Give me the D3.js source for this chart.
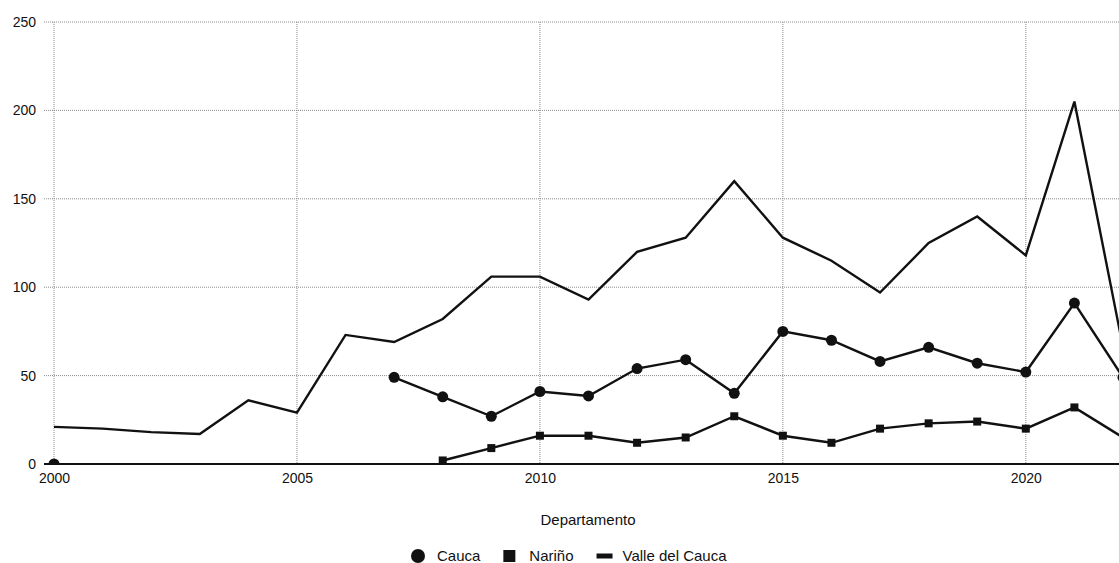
<!DOCTYPE html>
<html>
<head>
<meta charset="utf-8">
<script src="https://cdn.jsdelivr.net/npm/d3@7/dist/d3.min.js"></script>
<style>
  body { margin: 0; background: #fff; }
  svg { display: block; font-family: "Liberation Sans", Arial, sans-serif; }
</style>
</head>
<body>
<svg id="chart" width="1119" height="563"></svg>
<script>
// años y series (lecturas del gráfico)
const years = [2000, 2001, 2002, 2003, 2004, 2005, 2006, 2007, 2008, 2009, 2010, 2011,
               2012, 2013, 2014, 2015, 2016, 2017, 2018, 2019, 2020, 2021, 2022];
const cauca = [0, null, null, null, null, null, null, 49, 38, 27, 41, 38.5,
               54, 59, 40, 75, 70, 58, 66, 57, 52, 91, 49];
const narino = [null, null, null, null, null, null, null, null, 2, 9, 16, 16,
                12, 15, 27, 16, 12, 20, 23, 24, 20, 32, 15];
const valle = [21, 20, 18, 17, 36, 29, 73, 69, 82, 106, 106, 93,
               120, 128, 160, 128, 115, 97, 125, 140, 118, 205, 66];
const xTicks = [2000, 2005, 2010, 2015, 2020];
const yTicks = [0, 50, 100, 150, 200, 250];
const seriesNames = ["Cauca", "Nariño", "Valle del Cauca"];

const svg = d3.select("#chart");
const x = d3.scaleLinear().domain([2000, 2022]).range([54, 1123]);
const y = d3.scaleLinear().domain([0, 250]).range([464, 22]);

svg.append("defs").append("clipPath").attr("id", "plotclip")
   .append("rect").attr("x", 40).attr("y", 0).attr("width", 1079).attr("height", y(0));

// grid
let grid = svg.append("g").attr("class", "grid");
grid.selectAll("line.h")
    .data(yTicks.filter(d => d > 0))
    .join("line")
    .attr("x1", 44).attr("x2", 1119)
    .attr("y1", d => y(d)).attr("y2", d => y(d))
    .attr("stroke", "#8a8a8a").attr("stroke-width", 1)
    .attr("stroke-dasharray", "1,1");
grid.selectAll("line.v")
    .data(xTicks)
    .join("line")
    .attr("x1", d => x(d)).attr("x2", d => x(d))
    .attr("y1", y(250)).attr("y2", y(0))
    .attr("stroke", "#8a8a8a").attr("stroke-width", 1)
    .attr("stroke-dasharray", "1,1");

// axes
let yAxis = svg.append("g")
    .attr("transform", "translate(44,0)")
    .call(d3.axisLeft(y).tickValues(yTicks).tickSize(0).tickPadding(8));
yAxis.select(".domain").remove();
yAxis.selectAll("text").attr("font-size", 14).attr("fill", "#111")
    .attr("font-family", "Liberation Sans, Arial, sans-serif");

let xAxis = svg.append("g")
    .attr("transform", "translate(0," + y(0) + ")")
    .call(d3.axisBottom(x).tickValues(xTicks).tickFormat(d3.format("d")).tickSize(0).tickPadding(9));
xAxis.select(".domain").remove();
xAxis.selectAll("text").attr("font-size", 14).attr("fill", "#111")
    .attr("font-family", "Liberation Sans, Arial, sans-serif");

svg.append("text")
    .attr("x", 588).attr("y", 525)
    .attr("text-anchor", "middle")
    .attr("font-size", 15).attr("fill", "#111")
    .text("Departamento");

// lines
const line = d3.line()
    .defined(d => d.v !== null)
    .x(d => x(d.year))
    .y(d => y(d.v));

const mk = arr => years.map((yr, i) => ({ year: yr, v: arr[i] }));
const series = [mk(cauca), mk(narino), mk(valle)];

let plot = svg.append("g").attr("clip-path", "url(#plotclip)");
series.forEach(s => {
    plot.append("path")
        .datum(s)
        .attr("d", line)
        .attr("fill", "none")
        .attr("stroke", "#111")
        .attr("stroke-width", 2.4)
        .attr("stroke-linejoin", "miter");
});

plot.selectAll("circle.cauca")
    .data(series[0].filter(d => d.v !== null))
    .join("circle")
    .attr("cx", d => x(d.year)).attr("cy", d => y(d.v))
    .attr("r", 5.5).attr("fill", "#111");

plot.selectAll("rect.narino")
    .data(series[1].filter(d => d.v !== null))
    .join("rect")
    .attr("x", d => x(d.year) - 4).attr("y", d => y(d.v) - 4)
    .attr("width", 8).attr("height", 8).attr("fill", "#111");

svg.append("line")
    .attr("x1", 44).attr("x2", 1119)
    .attr("y1", y(0)).attr("y2", y(0))
    .attr("stroke", "#111").attr("stroke-width", 1.8);

// legend
let legend = svg.append("g").attr("transform", "translate(0,556)");
let cx = 411;
seriesNames.forEach((name, i) => {
    if (i === 0) {
        legend.append("circle").attr("cx", cx + 7).attr("cy", 0).attr("r", 7).attr("fill", "#111");
    } else if (i === 1) {
        legend.append("rect").attr("x", cx).attr("y", -6).attr("width", 12).attr("height", 12).attr("fill", "#111");
    } else {
        legend.append("rect").attr("x", cx).attr("y", -2.5).attr("width", 16).attr("height", 5).attr("fill", "#111");
    }
    let t = legend.append("text")
        .attr("x", cx + 26).attr("y", 5)
        .attr("font-size", 15).attr("fill", "#111")
        .text(name);
    cx += 26 + t.node().getComputedTextLength() + 23;
});
</script>
</body>
</html>
